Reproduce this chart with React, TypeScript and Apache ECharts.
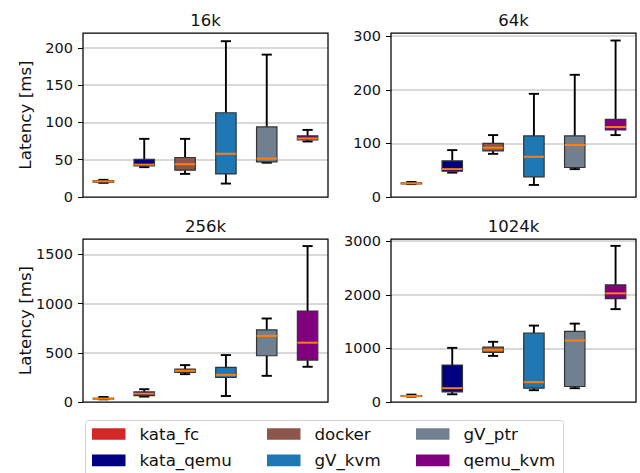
import React, { useEffect, useRef } from "react";
import * as echarts from "echarts";

// ---- data ----
const categories = ["kata_fc", "kata_qemu", "docker", "gV_kvm", "gV_ptr", "qemu_kvm"];
const categoryColors = ["#d62728", "#000080", "#8c564b", "#1f77b4", "#708090", "#800080"];
const panelTitles = ["16k", "64k", "256k", "1024k"];
const yMax = [220, 306, 1657, 3040];
const yInterval = [50, 100, 500, 1000];

// [low whisker, Q1, median, Q3, high whisker] per category
const stats16k = [
  [19, 20, 21, 22, 23],
  [40, 41.6, 43.4, 50.5, 78],
  [31, 36, 44, 53, 78],
  [18, 31, 58, 113, 209],
  [46, 47, 51.5, 94, 191],
  [74.5, 76.5, 78.5, 82, 90],
];
const stats64k = [
  [24, 24.5, 25.5, 26.5, 28],
  [45.5, 48, 52, 67.5, 87.5],
  [80.5, 86, 92, 100, 115.5],
  [22.5, 37.5, 75, 114, 192.5],
  [52, 55, 97, 114, 228],
  [115.5, 125, 130.5, 145, 292],
];
const stats256k = [
  [27, 30, 34, 38, 51],
  [55, 65, 85, 102, 130],
  [283, 300, 317, 334, 375],
  [61, 249, 276, 351, 477],
  [266, 470, 672, 733, 849],
  [358, 426, 603, 924, 1585],
];
const stats1024k = [
  [100, 105, 113, 120, 138],
  [144, 188, 257, 690, 1010],
  [860, 923, 973, 1023, 1123],
  [220, 257, 370, 1287, 1425],
  [257, 289, 1148, 1318, 1462],
  [1732, 1927, 2027, 2184, 2912],
];
const panelStats = [stats16k, stats64k, stats256k, stats1024k];

const FONT = "DejaVu Sans";

const grids = [
  { left: 83, top: 33, width: 245, height: 164 },
  { left: 391, top: 33, width: 245, height: 164 },
  { left: 83, top: 239, width: 245, height: 163 },
  { left: 391, top: 239, width: 245, height: 163 },
];

function renderBox(params: any, api: any) {
  const x = api.value(0);
  const low = api.coord([x, api.value(1)]);
  const q1 = api.coord([x, api.value(2)]);
  const med = api.coord([x, api.value(3)]);
  const q3 = api.coord([x, api.value(4)]);
  const high = api.coord([x, api.value(5)]);
  const w = api.size([0.5, 0])[0];
  const cx = low[0];
  const color = api.visual("color");
  const wl = { stroke: "#000", lineWidth: 1.9 };
  return {
    type: "group",
    children: [
      { type: "line", shape: { x1: cx, y1: q3[1], x2: cx, y2: high[1] }, style: wl },
      { type: "line", shape: { x1: cx, y1: q1[1], x2: cx, y2: low[1] }, style: wl },
      { type: "line", shape: { x1: cx - w / 4, y1: high[1], x2: cx + w / 4, y2: high[1] }, style: wl },
      { type: "line", shape: { x1: cx - w / 4, y1: low[1], x2: cx + w / 4, y2: low[1] }, style: wl },
      {
        type: "rect",
        shape: { x: cx - w / 2, y: q3[1], width: w, height: Math.max(q1[1] - q3[1], 0.5) },
        style: { fill: color, stroke: "#333", lineWidth: 1.2 },
      },
      {
        type: "line",
        shape: { x1: cx - w / 2, y1: med[1], x2: cx + w / 2, y2: med[1] },
        style: { stroke: "#ff7f0e", lineWidth: 2 },
      },
    ],
  };
}

export default function App() {
  const ref = useRef<HTMLDivElement>(null);
  useEffect(() => {
    document.body.style.margin = "0";
    if (!ref.current) return;
    const chart = echarts.init(ref.current, undefined, { renderer: "svg" });

    const series: any[] = [];
    panelStats.forEach((stats, gi) => {
      stats.forEach((s, ci) => {
        series.push({
          type: "custom",
          name: categories[ci],
          xAxisIndex: gi,
          yAxisIndex: gi,
          itemStyle: { color: categoryColors[ci] },
          renderItem: renderBox,
          encode: { x: 0, y: [1, 2, 3, 4, 5] },
          data: [[ci + 1, ...s]],
          silent: true,
        });
      });
    });

    const graphic: any[] = [];
    grids.forEach((g, gi) => {
      graphic.push({
        type: "text",
        x: g.left + g.width / 2,
        y: g.top - 13,
        style: {
          text: panelTitles[gi],
          fontSize: 16.5,
          fontFamily: FONT,
          fill: "#111",
          align: "center",
          verticalAlign: "middle",
        },
      });
      if (gi % 2 === 0) {
        graphic.push({
          type: "text",
          x: 25,
          y: g.top + g.height / 2,
          rotation: Math.PI / 2,
          style: {
            text: "Latency [ms]",
            fontSize: 16.7,
            fontFamily: FONT,
            fill: "#111",
            align: "center",
            verticalAlign: "middle",
          },
        });
      }
    });
    graphic.push({
      type: "rect",
      z: -1,
      shape: { x: 85.5, y: 420.5, width: 478, height: 70, r: 3 },
      style: { fill: "#fff", stroke: "#d0d0d0", lineWidth: 1 },
    });

    const legendCols = [
      [categories[0], categories[1]],
      [categories[2], categories[3]],
      [categories[4], categories[5]],
    ];
    const legendLeft = [92, 267, 416];

    chart.setOption({
      animation: false,
      backgroundColor: "#fff",
      grid: grids.map((g) => ({
        ...g,
        show: true,
        borderColor: "#000",
        borderWidth: 1.25,
        backgroundColor: "transparent",
        z: 10,
      })),
      xAxis: grids.map((_, gi) => ({
        type: "value",
        gridIndex: gi,
        min: 0.5,
        max: 6.5,
        show: false,
      })),
      yAxis: grids.map((_, gi) => ({
        type: "value",
        gridIndex: gi,
        min: 0,
        max: yMax[gi],
        interval: yInterval[gi],
        axisLine: { show: false },
        axisTick: { show: true, length: 5, lineStyle: { color: "#000", width: 1 } },
        axisLabel: {
          fontSize: 14.5,
          fontFamily: FONT,
          color: "#111",
          margin: 10,
          showMaxLabel: false,
          formatter: (v: number) => (v % yInterval[gi] === 0 ? String(v) : ""),
        },
        splitLine: {
          show: true,
          showMinLine: false,
          showMaxLine: false,
          lineStyle: { color: "#cccccc", width: 1.5 },
        },
      })),
      legend: legendCols.map((names, i) => ({
        orient: "vertical",
        left: legendLeft[i],
        top: 425.5,
        padding: 0,
        itemWidth: 33.5,
        itemHeight: 11.7,
        itemGap: 9.3,
        icon: "rect",
        selectedMode: false,
        data: names,
        textStyle: { fontSize: 16.7, fontFamily: FONT, color: "#111", padding: [0, 0, 0, 9] },
      })),
      graphic,
      series,
    });
    return () => chart.dispose();
  }, []);
  return <div ref={ref} style={{ width: 640, height: 473 }} />;
}
